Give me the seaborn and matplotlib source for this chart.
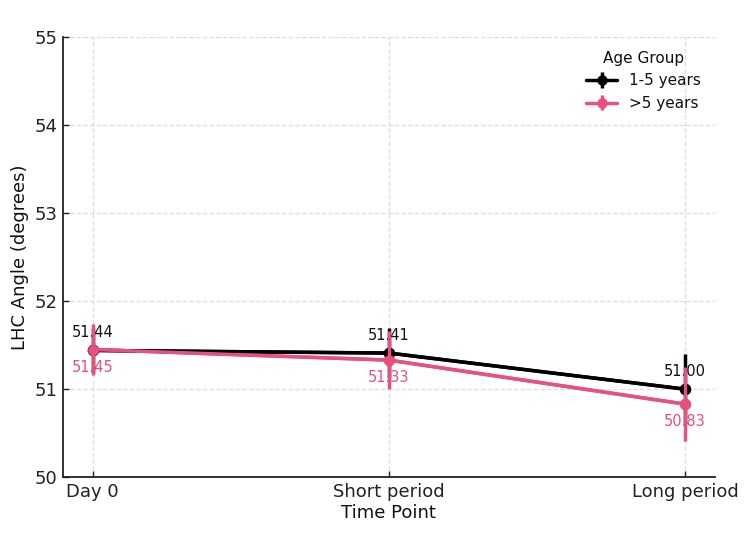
import matplotlib
matplotlib.use("Agg")
import matplotlib.pyplot as plt
import seaborn as sns
import pandas as pd

time_points = ["Day 0", "Short period", "Long period"]
groups = ["1-5 years", ">5 years"]
means_young = [51.44, 51.41, 51.00]
means_old = [51.45, 51.33, 50.83]
err_young = [0.26, 0.28, 0.40]
err_old = [0.29, 0.33, 0.42]

colors = {"1-5 years": "#000000", ">5 years": "#E8507E"}

df = pd.DataFrame({
    "Time Point": time_points * 2,
    "Angle": means_young + means_old,
    "Age Group": [groups[0]] * 3 + [groups[1]] * 3,
})

sns.set_style("ticks")
plt.rcParams.update({"text.color": "#111111", "axes.labelcolor": "#111111",
                     "xtick.color": "#222222", "ytick.color": "#222222"})
fig = plt.figure(figsize=(7.5, 5.35), dpi=100)
ax = fig.add_axes([0.084, 0.108, 0.869, 0.823])

sns.pointplot(data=df, x="Time Point", y="Angle", hue="Age Group",
              palette=colors, errorbar=None, markers="o", ax=ax,
              linewidth=2.5, markersize=6.5, legend=False)

handles = []
for g, m, e, dz in [(groups[0], means_young, err_young, 3), (groups[1], means_old, err_old, 4)]:
    h = ax.errorbar(range(3), m, yerr=e, fmt="o-", color=colors[g], lw=2.5,
                    ms=6.5, elinewidth=2.5, capsize=0, label=g, zorder=dz)
    handles.append(h)

for i, v in enumerate(means_young):
    ax.text(i, v + 0.2, f"{v:.2f}", ha="center", va="center", fontsize=10.5,
            color="#111111", zorder=1)
for i, v in enumerate(means_old):
    ax.text(i, v - 0.2, f"{v:.2f}", ha="center", va="center", fontsize=10.5,
            color=colors[">5 years"], zorder=1)

ax.set_xlim(-0.1, 2.1)
ax.set_ylim(50, 55)
ax.set_yticks([50, 51, 52, 53, 54, 55])
ax.grid(True, linestyle="--", color="#dddddd", linewidth=0.9)
ax.set_axisbelow(True)
for s in ["top", "right"]:
    ax.spines[s].set_visible(False)
for s in ["left", "bottom"]:
    ax.spines[s].set_linewidth(1.3)
    ax.spines[s].set_color("#222222")
ax.tick_params(labelsize=13, width=1.0, length=4, direction="in", pad=4)
ax.set_xlabel("Time Point", fontsize=13, labelpad=2)
ax.set_ylabel("LHC Angle (degrees)", fontsize=13)

ax.legend(handles=handles, labels=groups, title="Age Group", frameon=False,
          loc="upper right", fontsize=11, title_fontsize=11,
          bbox_to_anchor=(1.0, 1.0))

fig.savefig("out.png", dpi=100)
